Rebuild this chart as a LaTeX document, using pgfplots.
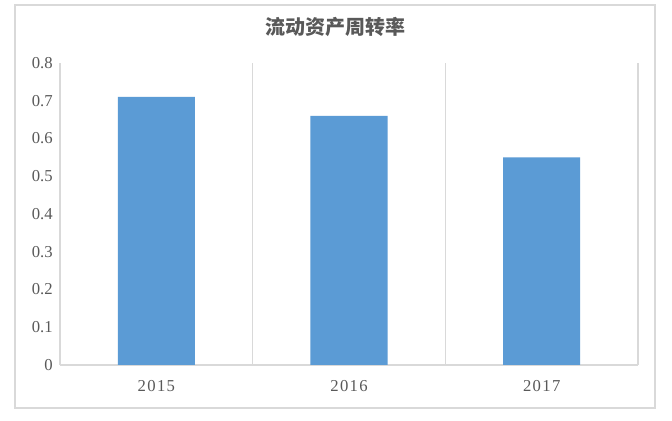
\documentclass[border=0pt]{standalone}
\usepackage{pgfplots}
\pgfplotsset{compat=1.18}
\usepackage{fontspec}
\setmainfont{Liberation Serif}
\newfontfamily\cjk{Noto Sans CJK SC}
\definecolor{barblue}{HTML}{5B9BD5}
\definecolor{txtgray}{HTML}{595959}
\definecolor{linegray}{HTML}{D9D9D9}
\begin{document}
\begin{tikzpicture}
% page and outer frame, 1px = 0.75pt
\fill[white] (0,0) rectangle (504pt,315.75pt);
\draw[linegray, line width=0.8pt] (11.25pt,9.75pt) rectangle (491.25pt,312pt);
\node[font=\cjk\bfseries\fontsize{15}{18}\selectfont, text=txtgray] at (251.25pt,295.5pt) {流动资产周转率};
\begin{axis}[
    at={(45pt,42pt)}, anchor=south west,
    scale only axis,
    width=433.5pt, height=226.5pt,
    xmin=-0.5, xmax=2.5,
    ymin=0, ymax=0.8,
    ytick={0,0.1,...,0.8},
    xtick={0,1,2},
    xticklabels={2015,2016,2017},
    minor xtick={-0.5,0.5,1.5,2.5},
    minor x grid style={linegray, line width=0.8pt},
    xminorgrids=true,
    axis x line*=bottom,
    axis y line*=left,
    x axis line style={linegray, line width=0.8pt, -},
    y axis line style={draw=none},
    major tick length=0pt,
    minor tick length=0pt,
    tick style={draw=none},
    /pgf/number format/assume math mode=true,
    /pgf/number format/fixed,
    /pgf/number format/precision=1,
    ticklabel style={font=\fontsize{12.5}{14}\selectfont, text=txtgray},
    yticklabel style={xshift=-2pt},
    xticklabel style={yshift=-8pt, font=\fontsize{12.5}{14}\selectfont\addfontfeature{LetterSpace=8}},
    ybar, bar width=0.4,
]
\addplot[fill=barblue, draw=none] coordinates {(0,0.71) (1,0.66) (2,0.55)};
\end{axis}
\end{tikzpicture}
\end{document}
